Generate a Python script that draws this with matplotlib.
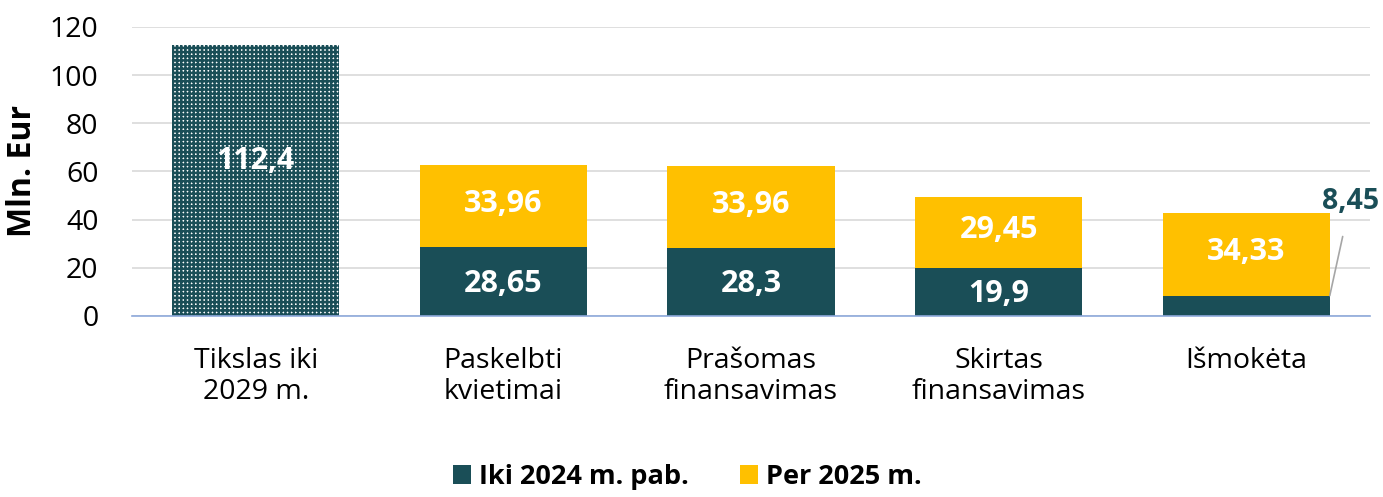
import matplotlib.pyplot as plt
import numpy as np

plt.rcParams['font.family'] = ['Open Sans', 'DejaVu Sans']
plt.rcParams['hatch.linewidth'] = 1.8

categories = ["Tikslas iki\n2029 m.", "Paskelbti\nkvietimai", "Prašomas\nfinansavimas",
              "Skirtas\nfinansavimas", "Išmokėta"]
target = 112.4
iki_2024 = [28.65, 28.3, 19.9, 8.45]
per_2025 = [33.96, 33.96, 29.45, 34.33]
labels_2024 = ["28,65", "28,3", "19,9", "8,45"]
labels_2025 = ["33,96", "33,96", "29,45", "34,33"]

teal = "#1A4E57"
gold = "#FFC000"

fig = plt.figure(figsize=(13.83, 4.97), dpi=100)
ax = fig.add_axes([0.0954, 0.3642, 0.8952, 0.5815])

x = np.arange(len(categories))
w = 0.675

# target bar: white fill under a dense teal grid
ax.bar(x[0], target, w, color="white", hatch="++++", edgecolor=teal, linewidth=0, zorder=3)
ax.text(x[0], 64.5, "112,4", ha="center", va="center", color="white",
        fontsize=22, fontweight="bold", zorder=4)

xs = x[1:]
ax.bar(xs, iki_2024, w, color=teal, zorder=3, label="Iki 2024 m. pab.")
ax.bar(xs, per_2025, w, bottom=iki_2024, color=gold, zorder=3, label="Per 2025 m.")

for i, xi in enumerate(xs):
    b = iki_2024[i]
    t = per_2025[i]
    if b > 15:
        ax.text(xi, b / 2 - 1, labels_2024[i], ha="center", va="center", color="white",
                fontsize=22, fontweight="bold", zorder=4)
    else:
        # small segment: label sits outside with a leader line
        ax.annotate(labels_2024[i], xy=(xi + w / 2, b), xytext=(xi + w / 2 + 0.083, 47.5),
                    ha="center", va="center", color=teal, fontsize=20.5, fontweight="bold",
                    arrowprops=dict(arrowstyle="-", color="#A6A6A6", lw=1.2,
                                    shrinkA=13, shrinkB=0), zorder=4,
                    annotation_clip=False)
    ax.text(xi, b + t / 2 + 1, labels_2025[i], ha="center", va="center", color="white",
            fontsize=22, fontweight="bold", zorder=4)

ax.set_xlim(-0.5, len(categories) - 0.5)
ax.set_ylim(0, 120)
ax.set_yticks(np.arange(0, 121, 20))
ax.set_xticks(x)
ax.set_xticklabels(categories, fontsize=20.5, linespacing=1.17)
ax.tick_params(axis="both", length=0, labelsize=20.5)
ax.tick_params(axis="x", pad=22)
ax.tick_params(axis="y", pad=24)
ax.yaxis.grid(True, color="#D9D9D9", linewidth=1.2, zorder=0)
for s in ["top", "right", "left"]:
    ax.spines[s].set_visible(False)
ax.spines["bottom"].set_color("#8EA9DB")
ax.spines["bottom"].set_linewidth(1.2)
ax.spines["bottom"].set_zorder(5)

ax.set_ylabel("Mln. Eur", fontsize=23, fontweight="bold", labelpad=8)

leg = fig.legend(loc="lower center", bbox_to_anchor=(0.497, -0.035), ncol=2, frameon=False,
                 prop={"size": 19.5, "weight": "bold"}, handlelength=0.65, handleheight=0.65,
                 handletextpad=0.3, columnspacing=1.9)

fig.savefig("out.png", dpi=100)
